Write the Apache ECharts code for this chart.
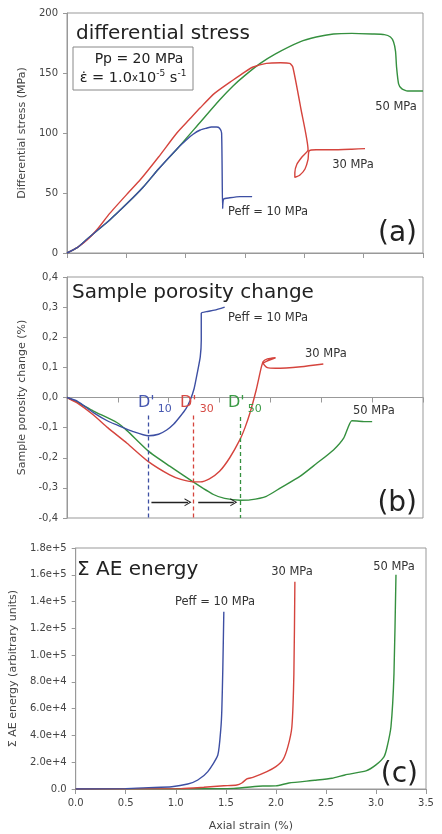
<!DOCTYPE html>
<html>
<head>
<meta charset="utf-8">
<script src="https://cdn.jsdelivr.net/npm/echarts@6/dist/echarts.min.js"></script>
<style>
html, body { margin: 0; padding: 0; background: #fff; }
#main { width: 442px; height: 834px; }
</style>
</head>
<body>
<div id="main"></div>
<script>
// (a) differential stress (MPa) vs axial strain (%)
var stress10 = [[0,0],[0.1,4.5],[0.19,11],[0.3,19],[0.42,27.5],[0.6,42],[0.75,55],[0.9,70],[1.09,87.5],[1.17,94],[1.24,99],[1.31,102.5],[1.37,104],[1.42,105],[1.47,105],[1.50,104],[1.52,100],[1.53,37],[1.54,45],[1.6,46],[1.7,47],[1.82,47]];
var stress30 = [[0,0],[0.1,4.5],[0.2,11],[0.3,20],[0.42,33],[0.6,50],[0.72,61],[0.9,80],[1.08,100],[1.2,111],[1.31,121],[1.45,133],[1.63,144],[1.75,151],[1.83,155],[1.96,158],[2.1,158.5],[2.19,158],[2.22,155],[2.30,120],[2.37,86],[2.31,80],[2.26,74],[2.24,67],[2.24,63],[2.29,65],[2.34,70],[2.37,78],[2.38,85],[2.45,86],[2.6,86],[2.8,86.5],[2.93,87]];
var stress50 = [[0,0],[0.1,4.5],[0.19,11],[0.3,19],[0.42,27.5],[0.6,42],[0.75,55],[0.9,70],[1.09,87.5],[1.31,109],[1.5,127.5],[1.63,139],[1.75,148],[1.90,158],[2.05,166],[2.29,176],[2.45,180],[2.62,182.5],[2.8,183],[3.0,182.5],[3.12,182],[3.18,180],[3.21,176],[3.23,168],[3.24,155],[3.26,141],[3.29,137],[3.35,135],[3.5,135]];

// (b) sample porosity change (%)
var poro10 = [[0,0],[0.1,-0.012],[0.26,-0.05],[0.4,-0.078],[0.49,-0.091],[0.65,-0.113],[0.8,-0.127],[0.9,-0.122],[0.98,-0.108],[1.05,-0.088],[1.11,-0.064],[1.17,-0.037],[1.21,-0.01],[1.25,0.03],[1.28,0.08],[1.31,0.135],[1.32,0.19],[1.32,0.28],[1.37,0.285],[1.45,0.29],[1.55,0.30]];
var poro30 = [[0,0],[0.1,-0.018],[0.26,-0.058],[0.4,-0.1],[0.59,-0.152],[0.8,-0.213],[1.01,-0.257],[1.12,-0.272],[1.24,-0.28],[1.31,-0.28],[1.4,-0.27],[1.5,-0.245],[1.6,-0.2],[1.7,-0.14],[1.75,-0.1],[1.8,-0.05],[1.86,0.025],[1.91,0.10],[1.93,0.12],[1.97,0.128],[2.05,0.132],[1.96,0.12],[1.93,0.113],[1.97,0.099],[2.05,0.097],[2.3,0.102],[2.52,0.111]];
var poro50 = [[0,0],[0.1,-0.015],[0.26,-0.045],[0.49,-0.083],[0.59,-0.11],[0.8,-0.178],[1.01,-0.228],[1.24,-0.28],[1.44,-0.322],[1.55,-0.335],[1.70,-0.341],[1.8,-0.34],[1.96,-0.328],[2.1,-0.3],[2.29,-0.262],[2.45,-0.22],[2.62,-0.174],[2.72,-0.135],[2.80,-0.077],[2.85,-0.078],[2.92,-0.08],[3.0,-0.08]];
var dStrain = [0.80, 1.24, 1.70];
var dTop = [-0.06, -0.06, -0.065];
var arrowSpans = [[0.83, 1.19], [1.29, 1.64]];
var arrowLevel = -0.348;

// (c) cumulative AE energy
var ae10 = [[0,0],[0.5,300],[0.73,1000],[0.96,1700],[1.12,3700],[1.22,6700],[1.32,13000],[1.42,25400],[1.45,45000],[1.46,59000],[1.47,90000],[1.48,132400]];
var ae30 = [[0,0],[1.05,300],[1.28,1300],[1.48,2400],[1.61,3000],[1.66,4500],[1.71,7500],[1.77,8700],[1.91,13000],[2.0,16700],[2.07,21700],[2.12,31600],[2.16,46500],[2.18,86000],[2.19,154800]];
var ae50 = [[0,0],[1.0,200],[1.58,500],[1.87,2200],[2.0,2300],[2.13,4500],[2.39,6500],[2.56,8000],[2.69,10500],[2.9,13500],[3.0,18000],[3.08,24000],[3.11,31000],[3.15,46500],[3.18,86000],[3.2,160000]];

var BLUE = '#3d4fa3';
var RED = '#d5443d';
var GREEN = '#35903f';
var FONT = 'DejaVu Sans';
var AXIS = '#999';

var chart = echarts.init(document.getElementById('main'));

function xAx(grid, interval, showLabels, name) {
    return {
        type: 'value', gridIndex: grid, min: 0, max: 3.5, interval: interval,
        axisLine: { lineStyle: { color: AXIS } },
        axisTick: { show: true, length: 5, lineStyle: { color: AXIS } },
        splitLine: { show: false },
        axisLabel: { show: showLabels, margin: 9, color: '#444', fontSize: 10, fontFamily: FONT,
            formatter: function (v) { return v.toFixed(1); } },
        name: name, nameLocation: 'middle', nameGap: 32,
        nameTextStyle: { color: '#444', fontSize: 11, fontFamily: FONT }
    };
}

function yAx(grid, min, max, interval, fmt, name, gap) {
    return {
        type: 'value', gridIndex: grid, min: min, max: max, interval: interval,
        axisLine: { show: true, lineStyle: { color: AXIS } },
        axisTick: { show: true, length: 4, lineStyle: { color: AXIS } },
        splitLine: { show: false },
        axisLabel: { margin: 9, color: '#444', fontSize: 10, fontFamily: FONT, formatter: fmt },
        name: name, nameLocation: 'middle', nameGap: gap,
        nameTextStyle: { color: '#444', fontSize: 11, fontFamily: FONT }
    };
}

function line(name, data, color, xi) {
    return {
        name: name, type: 'line', data: data, xAxisIndex: xi, yAxisIndex: xi,
        showSymbol: false, smooth: 0.2, silent: true,
        lineStyle: { color: color, width: 1.4 }
    };
}

function dashed(i, color) {
    return {
        silent: true, symbol: ['none', 'none'], label: { show: false },
        lineStyle: { color: color, type: [4, 3], width: 1.3 },
        data: [[{ coord: [dStrain[i], dTop[i]] }, { coord: [dStrain[i], -0.4] }]]
    };
}

function txt(x, y, s, size, color, align) {
    return { type: 'text', x: x, y: y, silent: true, z: 10,
        style: { text: s, fontSize: size, fontFamily: FONT, fill: color, align: align || 'left', verticalAlign: 'middle' } };
}

function dLabel(x, y, sub, color) {
    return { type: 'text', x: x, y: y, silent: true, z: 10,
        style: {
            text: '{d|D\'}{s|' + sub + '}', fill: color, fontFamily: FONT, verticalAlign: 'middle',
            rich: {
                d: { fontSize: 16, fontFamily: FONT, fill: color },
                s: { fontSize: 11, fontFamily: FONT, fill: color, padding: [12, 0, 0, 3] }
            }
        } };
}

var s30 = line('30 MPa', poro30, RED, 1);
s30.markLine = dashed(1, RED);
var s10 = line('Peff = 10 MPa', poro10, BLUE, 1);
s10.markLine = dashed(0, BLUE);
var s50 = line('50 MPa', poro50, GREEN, 1);
s50.markLine = dashed(2, GREEN);
var arrows = {
    name: 'arrows', type: 'line', data: [], xAxisIndex: 1, yAxisIndex: 1,
    markLine: {
        silent: true, symbol: ['none', 'path://M0,10 L5,0 L10,10 L8.6,10 L5,2.8 L1.4,10 Z'],
        symbolSize: [8, 7], label: { show: false },
        lineStyle: { color: '#222', type: 'solid', width: 1.3 },
        data: arrowSpans.map(function (a) {
            return [{ coord: [a[0], arrowLevel] }, { coord: [a[1], arrowLevel] }];
        })
    }
};

var option = {
    animation: false,
    backgroundColor: '#fff',
    grid: [
        { left: 67, top: 13, width: 356, height: 240, show: true, borderColor: AXIS, borderWidth: 1 },
        { left: 67, top: 277, width: 356, height: 241, show: true, borderColor: AXIS, borderWidth: 1 },
        { left: 69, top: 548, width: 357, height: 241, show: true, borderColor: AXIS, borderWidth: 1 }
    ],
    xAxis: [
        xAx(0, 3.5 / 6, false, ''),
        xAx(1, 0.5, false, ''),
        xAx(2, 0.5, true, 'Axial strain (%)')
    ],
    yAxis: [
        yAx(0, 0, 200, 50, null, 'Differential stress (MPa)', 37),
        yAx(1, -0.4, 0.4, 0.1, function (v) { return v.toFixed(1).replace('.', ','); }, 'Sample porosity change (%)', 37),
        yAx(2, 0, 180000, 20000, function (v) { return v === 0 ? '0.0' : v.toExponential(1); }, '\u03a3 AE energy (arbitrary units)', 54)
    ],
    series: [
        line('50 MPa', stress50, GREEN, 0),
        line('30 MPa', stress30, RED, 0),
        line('Peff = 10 MPa', stress10, BLUE, 0),
        s50, s30, s10, arrows,
        line('50 MPa', ae50, GREEN, 2),
        line('30 MPa', ae30, RED, 2),
        line('Peff = 10 MPa', ae10, BLUE, 2)
    ],
    graphic: [
        // panel (a)
        txt(76, 34, 'differential stress', 20, '#222'),
        { type: 'rect', silent: true, z: 9, shape: { x: 73, y: 47, width: 120, height: 43 },
          style: { fill: '#fff', stroke: '#888', lineWidth: 1 } },
        txt(139, 59, 'Pp = 20 MPa', 14, '#222', 'center'),
        { type: 'text', x: 133, y: 78, silent: true, z: 10,
          style: {
              text: '\u03b5\u0307 = 1.0{x|x}10{p|-5} s{p|-1}', fontSize: 14.5, fontFamily: FONT, fill: '#222',
              align: 'center', verticalAlign: 'middle',
              rich: {
                  x: { fontSize: 10, fontFamily: FONT, fill: '#222' },
                  p: { fontSize: 9, fontFamily: FONT, fill: '#222', padding: [0, 0, 8, 0] }
              }
          } },
        txt(396, 107, '50 MPa', 11.5, '#333', 'center'),
        txt(353, 165, '30 MPa', 11.5, '#333', 'center'),
        txt(228, 212, 'Peff = 10 MPa', 11.5, '#333'),
        txt(417, 234, '(a)', 28, '#222', 'right'),
        // panel (b)
        txt(72, 293, 'Sample porosity change', 20, '#222'),
        txt(228, 318, 'Peff = 10 MPa', 11.5, '#333'),
        txt(305, 354, '30 MPa', 11.5, '#333'),
        txt(353, 411, '50 MPa', 11.5, '#333'),
        dLabel(138, 403, '10', '#4657b0'),
        dLabel(180, 403, '30', '#d64a44'),
        dLabel(228, 403, '50', '#3a9a45'),
        txt(417, 504, '(b)', 28, '#222', 'right'),
        // panel (c)
        txt(77, 570, '\u03a3 AE energy', 20, '#222'),
        txt(175, 602, 'Peff = 10 MPa', 11.5, '#333'),
        txt(292, 572, '30 MPa', 11.5, '#333', 'center'),
        txt(394, 567, '50 MPa', 11.5, '#333', 'center'),
        txt(418, 775, '(c)', 28, '#222', 'right')
    ]
};

chart.setOption(option);
</script>
</body>
</html>
